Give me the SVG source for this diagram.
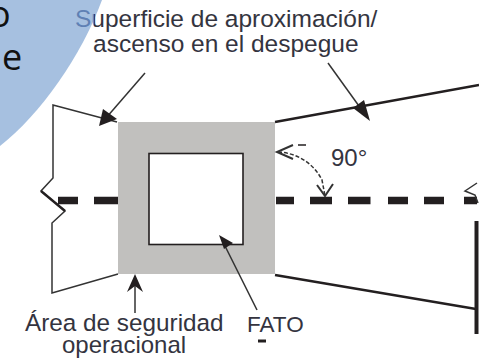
<svg xmlns="http://www.w3.org/2000/svg" width="479" height="358" viewBox="0 0 479 358">
<defs>
<style>
.t{font-family:"Liberation Sans",Arial,sans-serif;font-size:24px;fill:#34343f}
.w{font-size:24.500px}
.c{font-family:"Open Sans",sans-serif;font-size:36px;fill:#111}
.h{fill:none;stroke:#231f20;stroke-width:2.4}
.p{fill:none;stroke:#333;stroke-width:1.5}
.a{fill:#231f20}
</style>
<linearGradient id="fade" gradientUnits="userSpaceOnUse" x1="0" y1="0" x2="479" y2="0">
<stop offset="0.196" stop-color="#5f80b4"/>
<stop offset="0.196" stop-color="#34343f"/>
</linearGradient>
</defs>
<rect width="479" height="358" fill="#fff"/>
<path id="shape" d="M102 0C82 55 40 115 0 146V0Z" fill="#a6c0e0"/>
<text class="c" x="-11" y="27">o</text>
<text class="c" x="2" y="70">e</text>
<g id="safety-area"><rect x="118" y="122" width="157" height="152" fill="#c1c0be"/></g>
<g id="fato"><rect x="149" y="153.500" width="94" height="91" fill="#fff" stroke="#231f20" stroke-width="1.600"/></g>
<g id="connectors">
<path class="p" d="M117 122L53 105V178L41 191L65 211L52 223V293L118 274"/>
<path class="h" d="M65 211L41 191"/>
<path class="h" d="M275 122L479 85"/>
<path class="h" d="M275 275L476 309"/>
<path d="M476.500 221V334" fill="none" stroke="#231f20" stroke-width="4"/>
<path d="M58 200.500H78M94 200.500H118M276 200.500H294M310 200.500H332M348 200.500H370.500M388 200.500H408M424 200.500H444M464 200.500H477" fill="none" stroke="#231f20" stroke-width="7.500"/>
<path class="p" d="M145 73L106 118"/>
<path class="a" d="M99 126L103 109L117 119Z"/>
<path class="p" d="M328 63L364 113"/>
<path class="a" d="M370 121L353 108L364 100Z"/>
<path class="p" d="M135 313V280"/>
<path class="a" d="M135 274L143 292L135 286L127 292Z"/>
<path class="p" d="M257 310L225 246"/>
<path class="a" d="M219 235L233 243L224 249Z"/>
<path d="M278 152C298 153 314 164 322 180L325 196" fill="none" stroke="#333" stroke-width="1.500" stroke-dasharray="4 2"/>
<path d="M293 145L277 152L293 159M317 185L325 196L333 184" fill="none" stroke="#333" stroke-width="2"/>
<path d="M298 145H306" stroke="#231f20" stroke-width="1.500" fill="none"/>
<path d="M258 341H266" stroke="#231f20" stroke-width="3" fill="none"/>
<path class="p" d="M477 183L465 191L475 195L478 203"/>
</g>
<g id="labels">
<text class="t w" x="75" y="27" style="fill:url(#fade)">Superficie de aproximación/</text>
<text class="t w" x="93" y="52">ascenso en el despegue</text>
<text class="t" x="331" y="166">90°</text>
<text class="t" x="25" y="331" style="font-size:24.300px">Área de seguridad</text>
<text class="t" x="62" y="353">operacional</text>
<text class="t" x="247" y="332" style="font-size:22.500px">FATO</text>
</g>
</svg>
